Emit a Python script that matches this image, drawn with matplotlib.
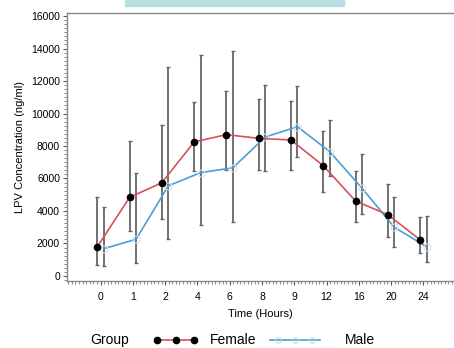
import matplotlib
matplotlib.use("Agg")
import matplotlib.pyplot as plt
from matplotlib.lines import Line2D
from matplotlib.patches import Rectangle
from matplotlib.ticker import MultipleLocator
import numpy as np

plt.rcParams['font.family'] = ['Liberation Sans', 'DejaVu Sans']

times = ["0", "1", "2", "4", "6", "8", "9", "12", "16", "20", "24"]
female_mean = [1800, 4840, 5740, 8250, 8700, 8470, 8370, 6790, 4615, 3770, 2230]
female_low = [680, 2790, 3510, 6480, 6540, 6540, 6540, 5190, 3300, 2380, 1400]
female_high = [4880, 8330, 9270, 10710, 11380, 10890, 10770, 8940, 6480, 5680, 3630]
male_mean = [1680, 2260, 5550, 6360, 6660, 8550, 9190, 7650, 5400, 3000, 1800]
male_low = [615, 820, 2300, 3160, 3320, 6460, 7340, 6150, 3815, 1770, 880]
male_high = [4250, 6320, 12860, 13620, 13870, 11750, 11670, 9620, 7510, 4860, 3690]

W, H = 454, 348
fig = plt.figure(figsize=(W / 100, H / 100), dpi=100)
ax = fig.add_axes([67 / W, 67 / H, 1 - 67 / W, (335 - 67) / H])

idx = np.arange(len(times))
off = 0.1
red = "#d8505a"
blue = "#4b9fd6"
ebc = "#666666"

fx = idx - off
mx = idx + off
fm = np.array(female_mean); mm = np.array(male_mean)
ax.errorbar(fx, fm, yerr=[fm - np.array(female_low), np.array(female_high) - fm],
            fmt='none', ecolor=ebc, elinewidth=1.3, capsize=1.5, capthick=1.0, zorder=2)
ax.errorbar(mx, mm, yerr=[mm - np.array(male_low), np.array(male_high) - mm],
            fmt='none', ecolor=ebc, elinewidth=1.3, capsize=1.5, capthick=1.0, zorder=2)
ax.plot(mx, mm, color=blue, lw=1.2, marker='o', ms=5, mfc='none', mec='#d8e2ea', mew=0.8, zorder=3)
ax.plot(fx, fm, color=red, lw=1.2, marker='o', ms=4.5, mfc='black', mec='black', zorder=4)

ax.set_xlim(-1.04, 10.95)
ax.set_ylim(-308, 16185)
ax.set_xticks(idx)
ax.set_xticklabels(times)
ax.xaxis.set_minor_locator(MultipleLocator(1 / 9))
ax.set_yticks(np.arange(0, 16001, 2000))
ax.yaxis.set_minor_locator(MultipleLocator(250))
ax.tick_params(axis='both', which='major', labelsize=7.5, length=3, width=0.8, color='#555555', pad=2)
ax.tick_params(axis='x', which='major', pad=5)
ax.tick_params(axis='both', which='minor', length=2, width=0.6, color='#777777')
for s in ['top', 'left', 'bottom']:
    ax.spines[s].set_color('#888888')
    ax.spines[s].set_linewidth(1.0)
ax.spines['right'].set_visible(False)

ax.set_xlabel("Time (Hours)", fontsize=8, labelpad=5)
ax.set_ylabel("LPV Concentration (ng/ml)", fontsize=8, labelpad=4)

# cropped title box at top
fig.patches.append(Rectangle((125 / W, 1 - 6 / H), (344 - 125) / W, 6 / H,
                             transform=fig.transFigure, color='#b8e0e3', zorder=0))

# legend at bottom
ly = 1 - 340 / H
fig.text(90 / W, ly, "Group", fontsize=10, va='center', ha='left')
fig.lines.append(Line2D([157 / W, 194 / W], [ly, ly], transform=fig.transFigure,
                        color=red, lw=1.2))
fig.lines.append(Line2D([157 / W, 175.5 / W, 194 / W], [ly] * 3, transform=fig.transFigure,
                        ls='none', marker='o', ms=4.5, mfc='black', mec='black'))
fig.text(210 / W, ly, "Female", fontsize=10, va='center', ha='left')
fig.lines.append(Line2D([270 / W, 320 / W], [ly, ly], transform=fig.transFigure,
                        color=blue, lw=1.2))
fig.lines.append(Line2D([278 / W, 295 / W, 312 / W], [ly] * 3, transform=fig.transFigure,
                        ls='none', marker='o', ms=4, mfc='none', mec='#c8d8e4', mew=0.7))
fig.text(345 / W, ly, "Male", fontsize=10, va='center', ha='left')

fig.savefig("out.png", dpi=100)
